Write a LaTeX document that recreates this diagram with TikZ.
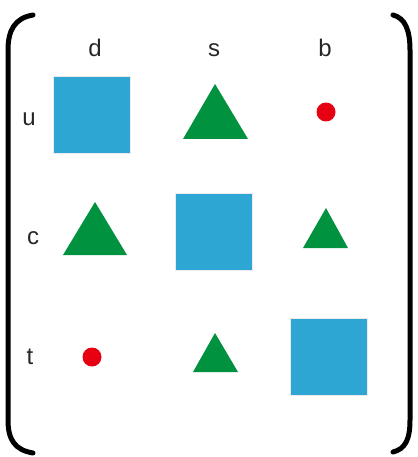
\documentclass[tikz,border=0pt]{standalone}
\usepackage{fontspec}
\setmainfont{Liberation Sans}
\definecolor{sqblue}{RGB}{46,166,212}
\definecolor{trigreen}{RGB}{0,146,63}
\definecolor{dotred}{RGB}{230,0,18}
\definecolor{halo}{RGB}{235,235,235}
\begin{document}
\begin{tikzpicture}[x=1pt,y=-1pt,
  lbl/.style={font=\fontsize{24}{28}\selectfont, anchor=base, inner sep=0pt, text=black!85},
  sqbox/.style={fill=sqblue, draw=halo, line width=1pt, minimum size=77pt, inner sep=0pt},
  tri/.style={fill=trigreen},
  dot/.style={circle, fill=dotred, minimum size=19pt, inner sep=0pt},
  brk/.style={line width=5pt, line cap=round}]
\useasboundingbox (0,0) rectangle (417,457);
% brackets
\draw[brk] (33,15) .. controls (15,18) and (8,30) .. (8,50) -- (8,420) .. controls (8,440) and (15,450) .. (33,453);
\draw[brk] (393,15) .. controls (405,18) and (410,30) .. (410,50) -- (410,420) .. controls (410,440) and (405,449) .. (393,452);
% column labels
\node[lbl] (ld) at (95,57) {d};
\node[lbl] (ls) at (214,57) {s};
\node[lbl] (lb) at (325,57) {b};
% row labels
\node[lbl] (lu) at (29,126) {u};
\node[lbl] (lc) at (33,244) {c};
\node[lbl] (lt) at (30,364) {t};
% squares
\node[sqbox] (ud) at (92,115.5) {};
\node[sqbox] (cs) at (214,232) {};
\node[sqbox] (tb) at (328.5,356.5) {};
% triangles
\fill[tri] (183,139) -- (215,84) -- (248,139) -- cycle;
\fill[tri] (63,255) -- (95,202) -- (127,255) -- cycle;
\fill[tri] (303,248) -- (326,208) -- (348,248) -- cycle;
\fill[tri] (193,372) -- (215,333) -- (238,372) -- cycle;
% dots
\node[dot] (ub) at (326,112) {};
\node[dot] (td) at (92,357) {};
\end{tikzpicture}
\end{document}
